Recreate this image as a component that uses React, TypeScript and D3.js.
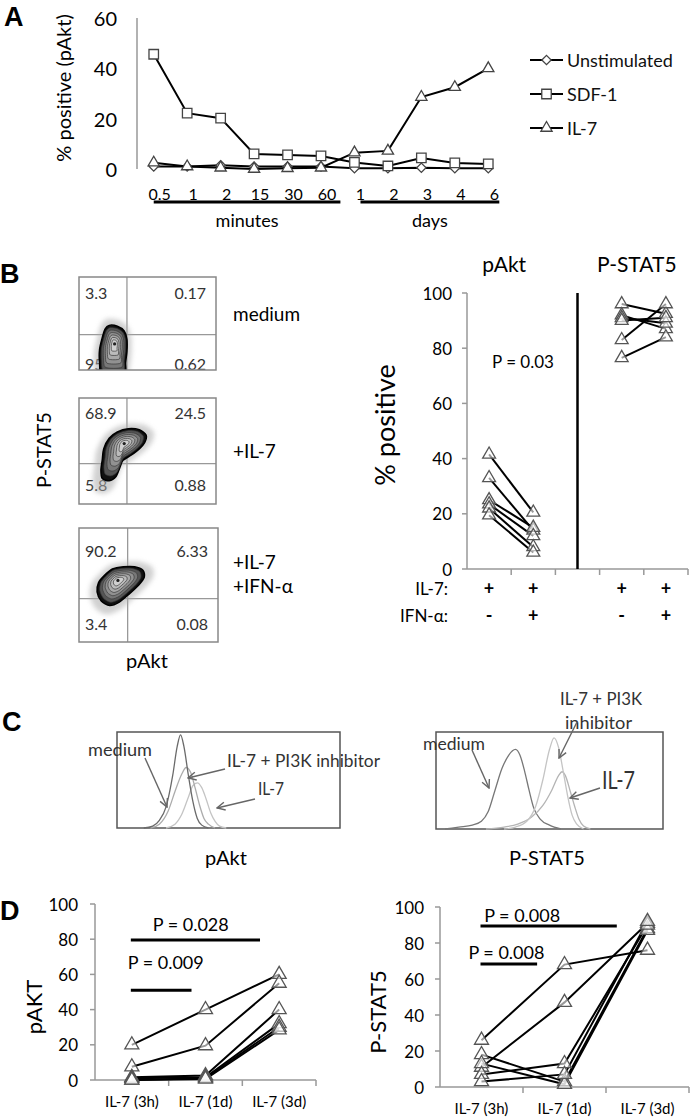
import * as d3 from "d3";

const FONT = "Lato, 'Open Sans', 'DejaVu Sans', sans-serif";
const LETTER_FONT = "'Liberation Sans', Arial, sans-serif";
const NARROW_FONT = "'Liberation Sans Narrow', Lato, sans-serif";

// ---------- Panel A: pAkt time course ----------
const timeKeys = ["0.5m", "1m", "2m", "15m", "30m", "60m", "1d", "2d", "3d", "4d", "6d"];
const timeLabels = ["0.5", "1", "2", "15", "30", "60", "1", "2", "3", "4", "6"];
const unstimulated = [1, 1, 1.5, 1, 1, 1, 0.3, 0.3, 0.5, 0.3, 0.3];
const sdf1 = [45.6, 22.2, 20.2, 6, 5.6, 5.2, 2.6, 1.2, 4.4, 2.4, 2];
const il7 = [2.5, 1, 0.5, 0, 0.3, 0.5, 6.5, 7.2, 28.6, 32.5, 40];
const seriesNamesA = ["Unstimulated", "SDF-1", "IL-7"];
const yTicksA = [0, 20, 40, 60];
const timeGroupLabels = ["minutes", "days"];
const timeGroupFirst = ["0.5m", "1d"];
const timeGroupLast = ["60m", "6d"];

// ---------- Panel B: flow plots ----------
const flowConditions = [["medium"], ["+IL-7"], ["+IL-7", "+IFN-α"]];
const flowQuadrantValues = [
  ["3.3", "0.17", "95.9", "0.62"],
  ["68.9", "24.5", "5.8", "0.88"],
  ["90.2", "6.33", "3.4", "0.08"],
];
const flowGate = [35, 38];
const flowOutlines: [number, number][][] = [
  [[22, 48], [28, 47], [33, 42], [35, 33], [35, 20], [34, 8], [33, -6], [17, -6], [15, 8], [15, 22], [17, 35], [19, 44]],
  [[22, 62], [28, 68], [36, 71], [44, 70], [49, 65], [48, 58], [44, 52], [38, 46], [32, 41], [30, 35], [27, 26], [22, 22], [17, 24], [16, 32], [17, 42], [18, 52]],
  [[18, 58], [24, 64], [32, 66], [40, 66], [46, 63], [47, 57], [43, 50], [36, 42], [29, 35], [22, 32], [16, 36], [13, 44], [14, 52]],
];
const flowCenters: [number, number][] = [[26, 28], [33, 57], [28, 54]];

// ---------- Panel B: paired chart ----------
const bCats = ["pAkt-", "pAkt+", "gap", "stat-", "stat+"];
const pAktIL7 = [41.5, 33, 25, 23.5, 22, 19.5];
const pAktIL7IFN = [20.5, 14, 15, 12, 8, 6];
const pStatIL7 = [96, 92, 91, 90, 83, 76.5];
const pStatIL7IFN = [92.5, 87, 89, 91, 96, 84];
const bTicks = [0, 20, 40, 60, 80, 100];
const il7Row = ["+", "+", "", "+", "+"];
const ifnRow = ["-", "+", "", "-", "+"];

// ---------- Panel C: histograms (x, % of max) ----------
const histPAktMedium: [number, number][] = [[12, 0], [16, 2], [19, 8], [22, 22], [25, 55], [27, 85], [28.5, 97], [30, 85], [32, 55], [34, 28], [36, 10], [38, 3], [41, 0]];
const histPAktInhib: [number, number][] = [[15, 0], [19, 4], [23, 18], [26, 38], [29, 56], [31, 63], [33, 58], [35, 42], [37, 24], [39, 10], [41, 4], [44, 0]];
const histPAktIL7: [number, number][] = [[22, 0], [26, 4], [29, 14], [32, 32], [34, 44], [36, 47], [38, 42], [40, 30], [42, 16], [44, 7], [46, 2], [49, 0]];
const histStatMedium: [number, number][] = [[4, 0], [10, 2], [16, 4], [20, 8], [23, 18], [26, 40], [29, 62], [32, 76], [35, 82], [37, 76], [39, 60], [41, 40], [43, 22], [46, 10], [50, 4], [55, 0]];
const histStatInhib: [number, number][] = [[30, 0], [35, 2], [40, 8], [44, 24], [47, 50], [50, 82], [52, 94], [54, 84], [56, 60], [58, 34], [60, 14], [62, 5], [65, 0]];
const histStatIL7: [number, number][] = [[22, 0], [30, 2], [36, 5], [42, 12], [47, 24], [51, 40], [54, 55], [55.5, 59], [57, 55], [59, 40], [61, 24], [63, 10], [65, 3], [68, 0]];

// ---------- Panel D ----------
const dCats = ["IL-7 (3h)", "IL-7 (1d)", "IL-7 (3d)"];
const dPAkt = [[20, 40, 60], [7.5, 19.5, 55], [1.5, 2.5, 40], [1, 1.5, 32], [0, 1, 30], [0, 0.5, 28.5]];
const dPStat5 = [[26, 68, 76], [11, 47, 91], [18, 3, 88], [13, 1.5, 87], [7, 13, 90], [3, 7, 92]];
const dTicks = [0, 20, 40, 60, 80, 100];
const dPAktSigLabels = ["P = 0.028", "P = 0.009"];
const dPAktSigEnd = [1.74, 0.81];
const dPAktSigLevel = [79.5, 51];
const dPStatSigLabels = ["P = 0.008", "P = 0.008"];
const dPStatSigEnd = [1.63, 0.67];
const dPStatSigLevel = [89.4, 68.3];

const diamond = (d3 as any).symbolDiamond2 ?? d3.symbolDiamond;

function Marker({ x, y, type, size }: { x: number; y: number; type: d3.SymbolType; size: number }) {
  return (
    <path
      d={d3.symbol().type(type).size(size)()!}
      transform={`translate(${x},${y})`}
      fill="#fff"
      stroke="#444"
      strokeWidth={1.3}
    />
  );
}

function PanelA() {
  const x = d3.scalePoint<string>().domain(timeKeys).range([137, 505]).padding(0.5);
  const step = x.step();
  const y = d3.scaleLinear().domain([0, 60]).range([169, 18]);
  const values = [unstimulated, sdf1, il7];
  const types = [diamond, d3.symbolSquare, d3.symbolTriangle];
  const sizes = [55, 90, 55];
  const line = d3.line<number>().x((_, i) => x(timeKeys[i])!).y((d) => y(d));
  const groupPad = [[0, 0.58], [0.18, 0.33]];
  return (
    <g>
      <text x={4} y={26} fontFamily={LETTER_FONT} fontWeight="bold" fontSize={27}>A</text>
      <text transform="translate(63,88) rotate(-90)" textAnchor="middle" dominantBaseline="central" fontSize={20}>
        % positive (pAkt)
      </text>
      <line x1={137} x2={137} y1={y(60)} y2={y(0)} stroke="#999" strokeWidth={1.5} />
      {yTicksA.map((t) => (
        <text key={t} x={117} y={y(t)} textAnchor="end" dominantBaseline="central" fontSize={20}>{t}</text>
      ))}
      {timeKeys.map((k, i) => (
        <text key={k} x={x(k)! + 6} y={193} textAnchor="middle" dominantBaseline="central" fontSize={16}>
          {timeLabels[i]}
        </text>
      ))}
      {timeGroupLabels.map((g, i) => {
        const x1 = x(timeGroupFirst[i])! + groupPad[i][0] * step;
        const x2 = x(timeGroupLast[i])! + groupPad[i][1] * step;
        return (
          <g key={g}>
            <line x1={x1} x2={x2} y1={202} y2={202} stroke="#000" strokeWidth={3} />
            <text x={(x1 + x2) / 2} y={227} textAnchor="middle" fontSize={18}>{g}</text>
          </g>
        );
      })}
      {values.map((v, s) => (
        <g key={s}>
          <path d={line(v)!} fill="none" stroke="#000" strokeWidth={2} />
          {v.map((d, i) => (
            <Marker key={i} x={x(timeKeys[i])!} y={y(d)} type={types[s]} size={sizes[s]} />
          ))}
        </g>
      ))}
      {seriesNamesA.map((n, s) => {
        const ly = 60 + s * 34;
        return (
          <g key={n}>
            <line x1={530} x2={563} y1={ly} y2={ly} stroke="#000" strokeWidth={2} />
            <Marker x={546.5} y={ly} type={types[s]} size={sizes[s]} />
            <text x={567} y={ly} dominantBaseline="central" fontSize={18} fill="#111">{n}</text>
          </g>
        );
      })}
    </g>
  );
}

const flowBoxes = [
  { x0: 79, x1: 216, y0: 277, y1: 370 },
  { x0: 79, x1: 216, y0: 398, y1: 504 },
  { x0: 79, x1: 218, y0: 528, y1: 642 },
];
const flowTopOff = [15, 14, 22];
const flowBotOff = [7, 20, 19];
const flowCondY = [[313], [450], [561, 585]];

function FlowPlot({ i }: { i: number }) {
  const b = flowBoxes[i];
  const x = d3.scaleLinear().domain([0, 100]).range([b.x0, b.x1]);
  const y = d3.scaleLinear().domain([0, 100]).range([b.y1, b.y0]);
  const outline = flowOutlines[i];
  const [cx, cy] = flowCenters[i];
  const line = d3
    .line<[number, number]>()
    .x((d) => x(d[0]))
    .y((d) => y(d[1]))
    .curve(d3.curveCardinalClosed.tension(0.2));
  const shrink = (k: number) =>
    outline.map(([px, py]) => [cx + (px - cx) * k, cy + (py - cy) * k] as [number, number]);
  const levels = [1, 0.87, 0.74, 0.61, 0.48, 0.35, 0.22];
  const fills = ["#111", "#555", "#777", "#919191", "#a8a8a8", "#bcbcbc", "#d0d0d0"];
  const q = flowQuadrantValues[i];
  const ty = b.y0 + flowTopOff[i];
  const by = b.y1 - flowBotOff[i];
  return (
    <g>
      <defs>
        <clipPath id={`flowclip${i}`}>
          <rect x={b.x0} y={b.y0} width={b.x1 - b.x0} height={b.y1 - b.y0} />
        </clipPath>
      </defs>
      <rect x={b.x0} y={b.y0} width={b.x1 - b.x0} height={b.y1 - b.y0} fill="#fff" />
      <line x1={x(flowGate[0])} x2={x(flowGate[0])} y1={b.y0} y2={b.y1} stroke="#999" strokeWidth={1.3} />
      <line x1={b.x0} x2={b.x1} y1={y(flowGate[1])} y2={y(flowGate[1])} stroke="#999" strokeWidth={1.3} />
      <g fontSize={16} fill="#333" dominantBaseline="central">
        <text x={b.x0 + 6} y={ty}>{q[0]}</text>
        <text x={b.x1 - 10} y={ty} textAnchor="end">{q[1]}</text>
        <text x={b.x0 + 6} y={by}>{q[2]}</text>
        <text x={b.x1 - 10} y={by} textAnchor="end">{q[3]}</text>
      </g>
      <g clipPath={`url(#flowclip${i})`}>
        <path d={line(shrink(1.35))!} fill="#aaa" opacity={0.55} filter="url(#halo)" />
        {levels.map((k, j) => (
          <path
            key={k}
            d={line(shrink(k))!}
            fill={fills[j]}
            stroke={j === 0 ? "#000" : "#3a3a3a"}
            strokeWidth={j === 0 ? 1.5 : 0.7}
          />
        ))}
        <circle cx={x(cx)} cy={y(cy)} r={1.6} fill="#222" />
      </g>
      <rect x={b.x0} y={b.y0} width={b.x1 - b.x0} height={b.y1 - b.y0} fill="none" stroke="#888" strokeWidth={1.5} />
      {flowConditions[i].map((c, j) => (
        <text key={j} x={233} y={flowCondY[i][j]} dominantBaseline="central" fontSize={19}>{c}</text>
      ))}
    </g>
  );
}

function PanelB() {
  const x = d3.scaleBand<string>().domain(bCats).range([467, 688]);
  const bw = x.bandwidth();
  const cx = (c: string) => x(c)! + bw / 2;
  const y = d3.scaleLinear().domain([0, 100]).range([569, 293]);
  const tri = d3.symbol().type(d3.symbolTriangle).size(72)()!;
  const groups = [
    { a: pAktIL7, b: pAktIL7IFN, ca: bCats[0], cb: bCats[1] },
    { a: pStatIL7, b: pStatIL7IFN, ca: bCats[3], cb: bCats[4] },
  ];
  return (
    <g>
      <text x={0} y={283} fontFamily={LETTER_FONT} fontWeight="bold" fontSize={27}>B</text>
      {[0, 1, 2].map((i) => <FlowPlot key={i} i={i} />)}
      <text transform="translate(43,450) rotate(-90)" textAnchor="middle" dominantBaseline="central" fontSize={20}>P-STAT5</text>
      <text x={147} y={660} textAnchor="middle" dominantBaseline="central" fontSize={20}>pAkt</text>

      <text x={(cx(bCats[0]) + cx(bCats[1])) / 2 - 7} y={263} textAnchor="middle" dominantBaseline="central" fontSize={21}>pAkt</text>
      <text x={(cx(bCats[3]) + cx(bCats[4])) / 2 - 7} y={263} textAnchor="middle" dominantBaseline="central" fontSize={21}>P-STAT5</text>
      <text transform="translate(384,425) rotate(-90)" textAnchor="middle" dominantBaseline="central" fontSize={27}>% positive</text>
      <line x1={467} x2={467} y1={y(100)} y2={y(0)} stroke="#999" strokeWidth={1.5} />
      {bTicks.map((t) => (
        <g key={t}>
          <line x1={462} x2={467} y1={y(t)} y2={y(t)} stroke="#999" strokeWidth={1.5} />
          <text x={452} y={y(t)} textAnchor="end" dominantBaseline="central" fontSize={17}>{t}</text>
        </g>
      ))}
      <line x1={467} x2={688} y1={y(0)} y2={y(0)} stroke="#999" strokeWidth={1.5} />
      {bCats.map((c) => (
        <line key={c} x1={x(c)! + bw} x2={x(c)! + bw} y1={y(0)} y2={y(0) + 6} stroke="#999" strokeWidth={1.5} />
      ))}
      <line x1={cx("gap")} x2={cx("gap")} y1={y(100)} y2={y(0)} stroke="#000" strokeWidth={2.5} />
      <text x={523} y={361} textAnchor="middle" dominantBaseline="central" fontSize={17}>P = 0.03</text>
      {groups.map((g, gi) => (
        <g key={gi}>
          {g.a.map((v, i) => (
            <line key={i} x1={cx(g.ca)} y1={y(v)} x2={cx(g.cb)} y2={y(g.b[i])} stroke="#000" strokeWidth={2} />
          ))}
          {g.a.map((v, i) => (
            <path key={"a" + i} d={tri} transform={`translate(${cx(g.ca)},${y(v)})`} fill="#fff" fillOpacity={0.6} stroke="#555" strokeWidth={1.3} />
          ))}
          {g.b.map((v, i) => (
            <path key={"b" + i} d={tri} transform={`translate(${cx(g.cb)},${y(v)})`} fill="#fff" fillOpacity={0.6} stroke="#555" strokeWidth={1.3} />
          ))}
        </g>
      ))}
      <text x={448} y={588} textAnchor="end" dominantBaseline="central" fontSize={17}>IL-7:</text>
      <text x={448} y={615} textAnchor="end" dominantBaseline="central" fontSize={17}>IFN-α:</text>
      {bCats.map((c, i) => (
        <g key={c} fontWeight="bold" fontSize={18} textAnchor="middle" dominantBaseline="central">
          <text x={cx(c)} y={588}>{il7Row[i]}</text>
          <text x={cx(c)} y={615}>{ifnRow[i]}</text>
        </g>
      ))}
    </g>
  );
}

function Arrow({ x1, y1, x2, y2 }: { x1: number; y1: number; x2: number; y2: number }) {
  return <line x1={x1} y1={y1} x2={x2} y2={y2} stroke="#666" strokeWidth={1.4} markerEnd="url(#arrow)" />;
}

function Histogram({ box, curves, colors, xLabel, xLabelX }: any) {
  const x = d3.scaleLinear().domain([0, 100]).range([box.x0, box.x1]);
  const y = d3.scaleLinear().domain([0, 100]).range([box.y1, box.y0]);
  const line = d3
    .line<[number, number]>()
    .x((d) => x(d[0]))
    .y((d) => y(d[1]))
    .curve(d3.curveMonotoneX);
  return (
    <g>
      <rect x={box.x0} y={box.y0} width={box.x1 - box.x0} height={box.y1 - box.y0} fill="#fff" stroke="#555" strokeWidth={1.5} />
      {curves.map((c: [number, number][], i: number) => (
        <path key={i} d={line(c)!} fill="none" stroke={colors[i]} strokeWidth={1.3} />
      ))}
      <text x={xLabelX} y={857} textAnchor="middle" dominantBaseline="central" fontSize={20}>{xLabel}</text>
    </g>
  );
}

function PanelC() {
  const box1 = { x0: 117, x1: 340, y0: 732, y1: 828 };
  const box2 = { x0: 436, x1: 663, y0: 732, y1: 829 };
  return (
    <g>
      <text x={2} y={731} fontFamily={LETTER_FONT} fontWeight="bold" fontSize={27}>C</text>
      <Histogram box={box1} curves={[histPAktIL7, histPAktInhib, histPAktMedium]} colors={["#c4c4c4", "#acacac", "#6a6a6a"]} xLabel="pAkt" xLabelX={226} />
      <Histogram box={box2} curves={[histStatMedium, histStatIL7, histStatInhib]} colors={["#777", "#b4b4b4", "#c4c4c4"]} xLabel="P-STAT5" xLabelX={547} />
      <g fontFamily={NARROW_FONT} fill="#333" dominantBaseline="central">
        <text x={88} y={749} fontSize={18} textLength={64} lengthAdjust="spacingAndGlyphs">medium</text>
        <text x={227} y={760} fontSize={18} textLength={153} lengthAdjust="spacingAndGlyphs">IL-7 + PI3K inhibitor</text>
        <text x={258} y={788} fontSize={18} textLength={26} lengthAdjust="spacingAndGlyphs">IL-7</text>
        <text x={423} y={743} fontSize={18} textLength={62} lengthAdjust="spacingAndGlyphs">medium</text>
        <text x={560} y={698} fontSize={18} textLength={82} lengthAdjust="spacingAndGlyphs">IL-7 + PI3K</text>
        <text x={565} y={722} fontSize={18} textLength={67} lengthAdjust="spacingAndGlyphs">inhibitor</text>
        <text x={602} y={779} fontSize={25} textLength={33} lengthAdjust="spacingAndGlyphs">IL-7</text>
      </g>
      <Arrow x1={145} y1={758} x2={167} y2={807} />
      <Arrow x1={225} y1={769} x2={188} y2={778} />
      <Arrow x1={255} y1={799} x2={217} y2={808} />
      <Arrow x1={472} y1={750} x2={489} y2={788} />
      <Arrow x1={577} y1={722} x2={559} y2={758} />
      <Arrow x1={600} y1={788} x2={570} y2={798} />
    </g>
  );
}

function PairedTimeChart({ range, yRange, data, title, titleX, labelX, sigLabels, sigEnd, sigLevel, sigTextShift, sigTextGap }: any) {
  const x = d3.scaleBand<string>().domain(dCats).range(range);
  const bw = x.bandwidth();
  const cx = (c: string) => x(c)! + bw / 2;
  const y = d3.scaleLinear().domain([0, 100]).range(yRange);
  const line = d3.line<number>().x((_, i) => cx(dCats[i])).y((d) => y(d));
  const tri = d3.symbol().type(d3.symbolTriangle).size(85)()!;
  const ax = range[0];
  const midY = (yRange[0] + yRange[1]) / 2;
  return (
    <g>
      <text transform={`translate(${titleX},${midY + 15}) rotate(-90)`} textAnchor="middle" dominantBaseline="central" fontSize={22}>{title}</text>
      <line x1={ax} x2={ax} y1={y(100)} y2={y(0)} stroke="#999" strokeWidth={1.5} />
      {dTicks.map((t) => (
        <g key={t}>
          <line x1={ax - 5} x2={ax} y1={y(t)} y2={y(t)} stroke="#999" strokeWidth={1.5} />
          <text x={labelX} y={y(t)} textAnchor="end" dominantBaseline="central" fontSize={17}>{t}</text>
        </g>
      ))}
      <line x1={range[0]} x2={range[1]} y1={y(0)} y2={y(0)} stroke="#999" strokeWidth={1.5} />
      {dCats.map((c) => (
        <g key={c}>
          <line x1={x(c)! + bw} x2={x(c)! + bw} y1={y(0)} y2={y(0) + 6} stroke="#999" strokeWidth={1.5} />
          <text x={cx(c)} y={y(0) + 21} textAnchor="middle" dominantBaseline="central" fontSize={15}>{c}</text>
        </g>
      ))}
      {sigLabels.map((s: string, i: number) => {
        const x1 = cx(dCats[0]) - 1;
        const x2 = cx(dCats[0]) + sigEnd[i] * bw;
        return (
          <g key={i}>
            <line x1={x1} x2={x2} y1={y(sigLevel[i])} y2={y(sigLevel[i])} stroke="#000" strokeWidth={3} />
            <text x={cx(dCats[0]) + sigTextShift[i] * bw} y={y(sigLevel[i]) - sigTextGap[i]} textAnchor="middle" dominantBaseline="central" fontSize={18}>{s}</text>
          </g>
        );
      })}
      {data.map((d: number[], i: number) => (
        <path key={i} d={line(d)!} fill="none" stroke="#000" strokeWidth={2} />
      ))}
      {data.map((d: number[], i: number) =>
        d.map((v, j) => (
          <path key={i + "-" + j} d={tri} transform={`translate(${cx(dCats[j])},${y(v)})`} fill="#fff" fillOpacity={0.6} stroke="#555" strokeWidth={1.3} />
        ))
      )}
    </g>
  );
}

function PanelD() {
  return (
    <g>
      <text x={0} y={920} fontFamily={LETTER_FONT} fontWeight="bold" fontSize={27}>D</text>
      <PairedTimeChart
        range={[95, 316]}
        yRange={[1080, 904]}
        data={dPAkt}
        title="pAKT"
        titleX={33}
        labelX={78}
        sigLabels={dPAktSigLabels}
        sigEnd={dPAktSigEnd}
        sigLevel={dPAktSigLevel}
        sigTextShift={[0.8, 0.46]}
        sigTextGap={[16, 28]}
      />
      <PairedTimeChart
        range={[440, 689]}
        yRange={[1087, 907]}
        data={dPStat5}
        title="P-STAT5"
        titleX={377}
        labelX={424}
        sigLabels={dPStatSigLabels}
        sigEnd={dPStatSigEnd}
        sigLevel={dPStatSigLevel}
        sigTextShift={[0.49, 0.3]}
        sigTextGap={[11, 12]}
      />
    </g>
  );
}

export default function App() {
  return (
    <svg
      width={694}
      height={1119}
      style={{ position: "absolute", left: 0, top: 0, display: "block" }}
      fontFamily={FONT}
    >
      <defs>
        <filter id="halo" x="-30%" y="-30%" width="160%" height="160%">
          <feGaussianBlur stdDeviation="2.5" />
        </filter>
        <marker id="arrow" viewBox="0 0 10 10" refX="9" refY="5" markerWidth="10" markerHeight="10" orient="auto" markerUnits="userSpaceOnUse">
          <path d="M1,1 L9,5 L1,9" fill="none" stroke="#666" strokeWidth="1.4" />
        </marker>
      </defs>
      <rect width={694} height={1119} fill="#fff" />
      <PanelA />
      <PanelB />
      <PanelC />
      <PanelD />
    </svg>
  );
}
